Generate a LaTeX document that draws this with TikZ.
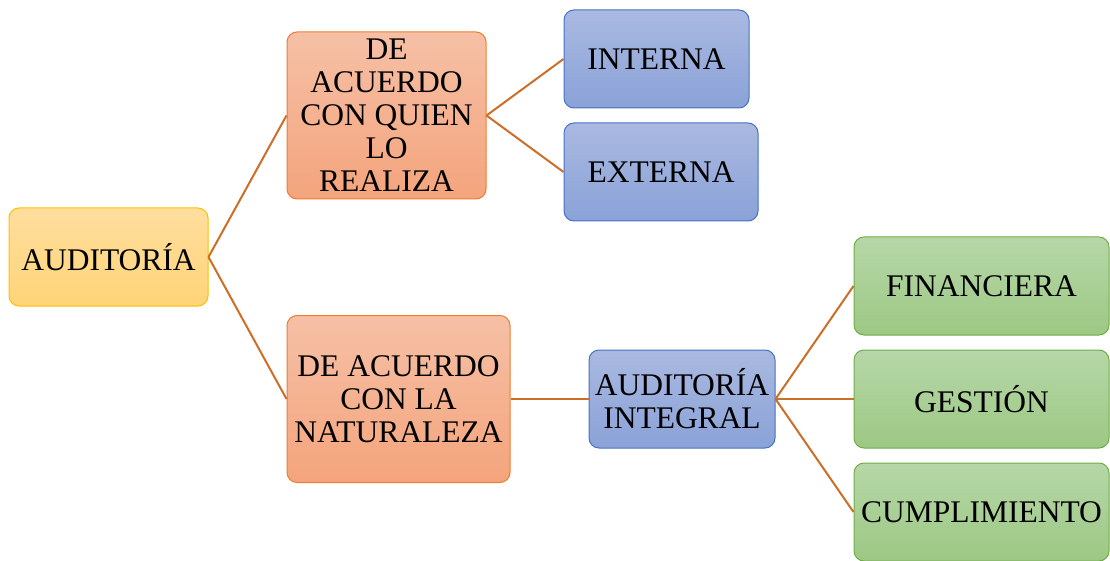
\documentclass[tikz,border=0pt]{standalone}
\usepackage{fontspec}
\setmainfont{Liberation Serif}
\begin{document}
\begin{tikzpicture}[x=1pt,y=-1pt,
  box/.style={rounded corners=10pt, line width=1pt, inner sep=0pt, align=center,
    font=\fontsize{31.5}{33}\selectfont, text=black},
  yel/.style={box, draw={rgb,255:red,255;green,192;blue,0}, top color={rgb,255:red,255;green,222;blue,158}, bottom color={rgb,255:red,255;green,212;blue,120}},
  sal/.style={box, draw={rgb,255:red,237;green,125;blue,49}, top color={rgb,255:red,246;green,192;blue,166}, bottom color={rgb,255:red,244;green,164;blue,124}},
  blu/.style={box, draw={rgb,255:red,68;green,114;blue,196}, top color={rgb,255:red,170;green,185;blue,224}, bottom color={rgb,255:red,138;green,162;blue,216}},
  grn/.style={box, draw={rgb,255:red,112;green,173;blue,71}, top color={rgb,255:red,182;green,215;blue,168}, bottom color={rgb,255:red,157;green,200;blue,132}},
  conn/.style={draw={rgb,255:red,204;green,110;blue,40}, line width=2pt}]
\useasboundingbox (0,0) rectangle (1110,561);

\node[yel, minimum width=199pt, minimum height=98pt] (aud) at (108.5,257) {AUDITORÍA};
\node[sal, minimum width=199pt, minimum height=167pt] (quien) at (386.5,115.5) {DE\\ACUERDO\\CON QUIEN\\LO\\REALIZA};
\node[blu, minimum width=185pt, minimum height=98pt] (int) at (656.5,59) {INTERNA};
\node[blu, minimum width=194pt, minimum height=98pt] (ext) at (661,172) {EXTERNA};
\node[sal, minimum width=223pt, minimum height=167pt] (nat) at (398.5,399) {DE ACUERDO\\CON LA\\NATURALEZA};
\node[blu, minimum width=186pt, minimum height=98pt] (ai) at (682,399) {AUDITORÍA\\INTEGRAL};
\node[grn, minimum width=255pt, minimum height=98pt] (fin) at (981.5,286) {FINANCIERA};
\node[grn, minimum width=255pt, minimum height=98pt] (ges) at (981.5,399) {GESTIÓN};
\node[grn, minimum width=255pt, minimum height=98pt] (cum) at (981.5,512) {CUMPLIMIENTO};

\draw[conn] (aud.east) -- (quien.west);
\draw[conn] (aud.east) -- (nat.west);
\draw[conn] (quien.east) -- (int.west);
\draw[conn] (quien.east) -- (ext.west);
\draw[conn] (nat.east) -- (ai.west);
\draw[conn] (ai.east) -- (fin.west);
\draw[conn] (ai.east) -- (ges.west);
\draw[conn] (ai.east) -- (cum.west);
\end{tikzpicture}
\end{document}
